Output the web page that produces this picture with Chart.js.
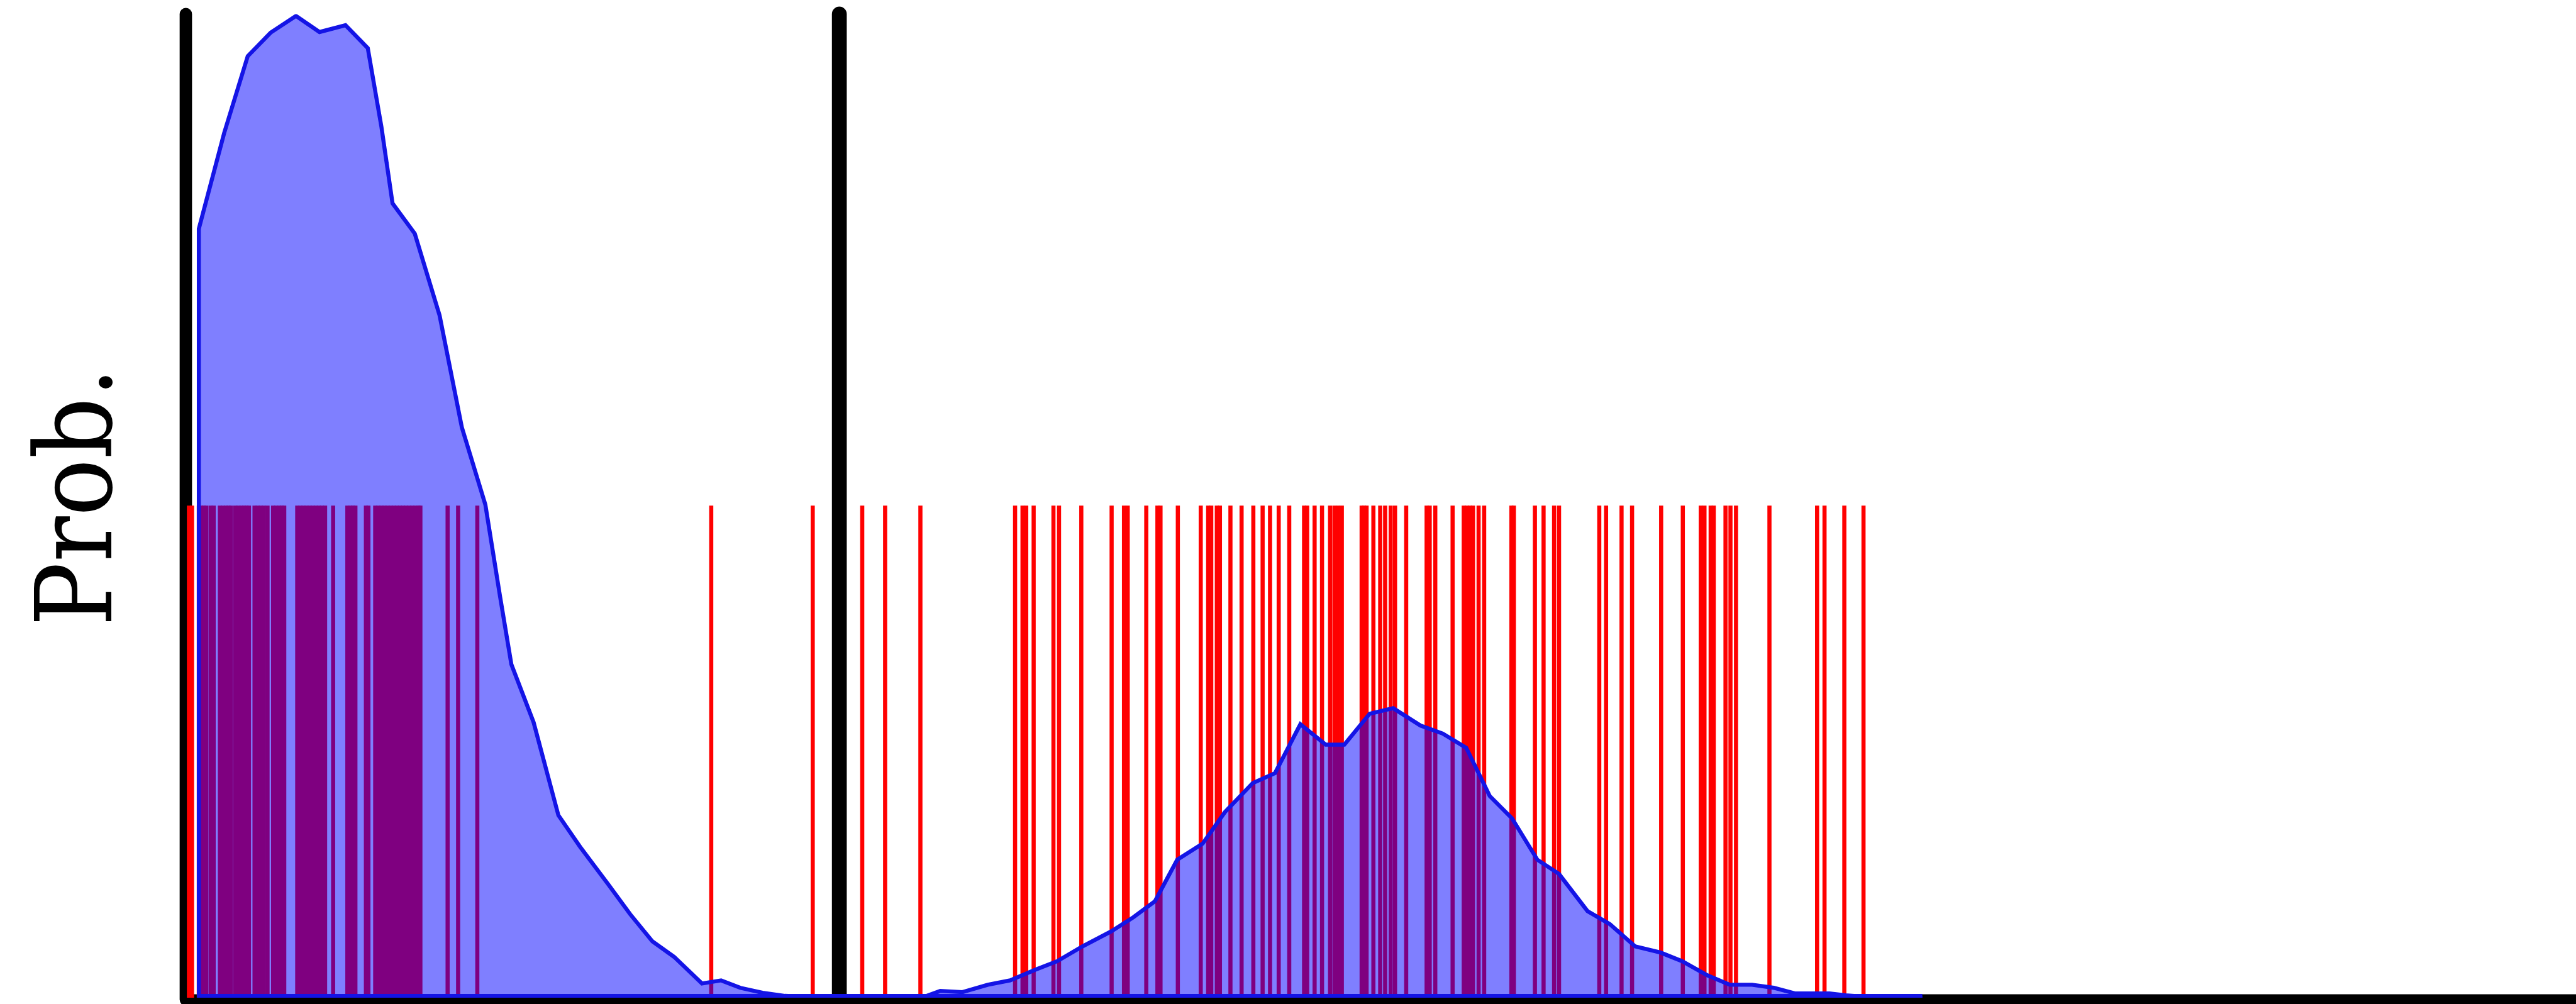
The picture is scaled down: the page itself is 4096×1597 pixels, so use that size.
<!DOCTYPE html>
<html>
<head>
<meta charset="utf-8">
<title>Prob.</title>
<script src="https://cdn.jsdelivr.net/npm/chart.js@4.4.1/dist/chart.umd.min.js"></script>
<style>
  html, body { margin: 0; padding: 0; background: #fff; overflow: hidden; }
  canvas { display: block; }
</style>
</head>
<body>
<canvas id="probChart" width="4096" height="1597"></canvas>
<script>
// Density estimate, traced as (x, y) pairs
const densityX = [0.021, 0.021, 0.062, 0.100, 0.137, 0.178, 0.216, 0.258, 0.294, 0.316,
    0.334, 0.370, 0.410, 0.446, 0.484, 0.508, 0.526, 0.562, 0.602, 0.637,
    0.682, 0.718, 0.754, 0.789, 0.834, 0.865, 0.896, 0.932, 0.968, 1.010,
    1.100, 1.189, 1.219, 1.255, 1.296, 1.332, 1.372, 1.408, 1.449, 1.495,
    1.531, 1.566, 1.602, 1.643, 1.679, 1.724, 1.760, 1.801, 1.842, 1.872,
    1.913, 1.951, 1.995, 2.031, 2.069, 2.107, 2.143, 2.184, 2.219, 2.265,
    2.301, 2.342, 2.383, 2.418, 2.459, 2.495, 2.531, 2.566, 2.600, 2.656,
    2.682, 2.720, 2.806];
const densityY = [0, 1.243, 1.398, 1.522, 1.560, 1.587, 1.561, 1.572, 1.535, 1.408,
    1.284, 1.235, 1.103, 0.922, 0.797, 0.647, 0.539, 0.445, 0.295, 0.244,
    0.184, 0.135, 0.091, 0.066, 0.023, 0.028, 0.016, 0.008, 0.003, 0.001,
    0, 0, 0.011, 0.009, 0.021, 0.028, 0.045, 0.059, 0.083, 0.107,
    0.130, 0.156, 0.223, 0.249, 0.300, 0.347, 0.363, 0.442, 0.409, 0.409,
    0.459, 0.468, 0.440, 0.427, 0.404, 0.326, 0.290, 0.223, 0.200, 0.140,
    0.119, 0.083, 0.073, 0.059, 0.036, 0.021, 0.021, 0.016, 0.007, 0.007,
    0.004, 0.001, 0];

// Individual samples (rug ticks)
const rugX = [
    0.005, 0.010, 0.021, 0.025, 0.029, 0.033, 0.040, 0.045,
    0.055, 0.060, 0.065, 0.069, 0.073, 0.080, 0.085, 0.090, 0.094, 0.098, 0.102,
    0.111, 0.116, 0.121, 0.126, 0.132, 0.141, 0.146, 0.151, 0.155, 0.159,
    0.180, 0.185, 0.190, 0.195, 0.200, 0.205, 0.210, 0.215, 0.220, 0.225,
    0.238, 0.261, 0.266, 0.270, 0.274, 0.291, 0.295,
    0.306, 0.311, 0.316, 0.321, 0.326, 0.331, 0.336, 0.341, 0.346, 0.351,
    0.356, 0.361, 0.366, 0.371, 0.376, 0.379,
    0.423, 0.440, 0.471,
    0.849, 1.013, 1.093, 1.130, 1.187,
    1.340, 1.352, 1.358, 1.370, 1.402, 1.411, 1.447, 1.496, 1.516, 1.522,
    1.552, 1.570, 1.575, 1.603, 1.640, 1.652, 1.657, 1.666, 1.671, 1.688,
    1.706, 1.725, 1.740, 1.752, 1.766, 1.783, 1.807, 1.812, 1.824, 1.836,
    1.849, 1.856, 1.862, 1.868, 1.900, 1.904, 1.908, 1.919, 1.930, 1.938,
    1.947, 1.954, 1.972,
    2.005, 2.010, 2.019, 2.047, 2.065, 2.070, 2.075, 2.080, 2.089, 2.098,
    2.142, 2.146, 2.180, 2.194, 2.211, 2.219, 2.284, 2.295, 2.320, 2.337,
    2.384, 2.419, 2.448, 2.454, 2.464, 2.469, 2.488, 2.496, 2.505, 2.559,
    2.636, 2.648, 2.680, 2.711];
const rugHeight = 0.795;

const cutoffX = 1.056;
const yLabel = 'Prob.';

const S = 0.984;

const densityPoints = densityX.map((x, i) => ({ x, y: densityY[i] }));
// close the outline back along the baseline
densityPoints.push({ x: densityX[0], y: 0 });

// Axes, cut-off marker and the rotated axis label
const frameLines = {
    id: 'frameLines',
    beforeDatasetsDraw(chart) {
        const { ctx, chartArea: { left, top, bottom } } = chart;
        const xs = chart.scales.x;
        const axisY = bottom + 3 * S;
        ctx.save();
        ctx.strokeStyle = '#000';
        ctx.lineCap = 'round';

        ctx.lineWidth = 17 * S;
        ctx.beginPath();
        ctx.moveTo(left, axisY);
        ctx.lineTo(chart.width + 20, axisY);
        ctx.stroke();

        ctx.lineWidth = 20 * S;
        ctx.beginPath();
        ctx.moveTo(left, top);
        ctx.lineTo(left, axisY);
        ctx.stroke();

        const cx = xs.getPixelForValue(cutoffX);
        ctx.lineWidth = 24 * S;
        ctx.beginPath();
        ctx.moveTo(cx, top);
        ctx.lineTo(cx, bottom);
        ctx.stroke();

        ctx.fillStyle = '#000';
        ctx.font = `condensed ${172 * S}px "DejaVu Serif Condensed", "DejaVu Serif", serif`;
        ctx.textAlign = 'center';
        ctx.textBaseline = 'alphabetic';
        ctx.translate(180 * S, 803 * S);
        ctx.rotate(-Math.PI / 2);
        ctx.fillText(yLabel, 0, 0);
        ctx.restore();
    }
};

const flatAtBase = c => c.p0.parsed.y === 0 && c.p1.parsed.y === 0;

new Chart(document.getElementById('probChart'), {
    type: 'line',
    data: {
        datasets: [
            {
                type: 'bar',
                label: 'samples',
                data: rugX.map(x => ({ x, y: rugHeight })),
                backgroundColor: '#ff0000',
                borderWidth: 0,
                barThickness: 6 * S,
                order: 2
            },
            {
                type: 'line',
                label: 'density',
                data: densityPoints,
                borderColor: '#1414e6',
                borderWidth: 6.5 * S,
                backgroundColor: 'rgba(0, 0, 255, 0.5)',
                fill: 'shape',
                pointRadius: 0,
                tension: 0,
                segment: {
                    borderWidth: c => flatAtBase(c) ? 12 * S : 6.5 * S
                },
                order: 1
            }
        ]
    },
    options: {
        responsive: false,
        animation: false,
        devicePixelRatio: 1,
        events: [],
        layout: { padding: { left: 295.5, right: 2.3, top: 22.4, bottom: 10 } },
        plugins: {
            legend: { display: false },
            tooltip: { enabled: false }
        },
        scales: {
            x: { type: 'linear', min: 0, max: 3.86, offset: false, display: false },
            y: { type: 'linear', min: 0, max: 1.59, display: false }
        }
    },
    plugins: [frameLines]
});
</script>
</body>
</html>
